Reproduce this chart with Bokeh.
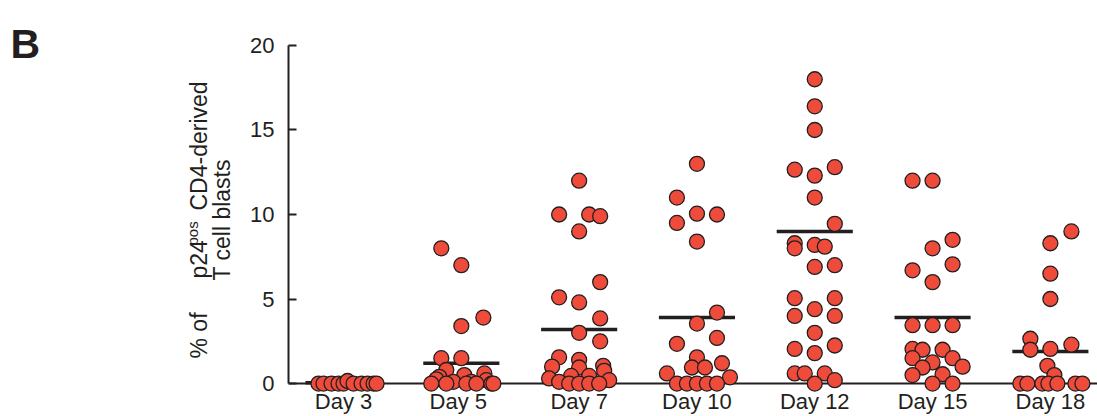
from math import pi
from bokeh.plotting import figure
from bokeh.layouts import row
from bokeh.models import Range1d, FixedTicker, Span, Label, ColumnDataSource
from bokeh.embed import file_html
from bokeh.resources import INLINE

# ---------------- data ----------------
days = ["Day 3", "Day  5", "Day 7", "Day 10", "Day 12", "Day 15", "Day 18"]

day3_values = [0, 0, 0, 0, 0, 0.15, 0, 0, 0, 0, 0]
day3_slots = [-2.5, -2, -1.2, -0.5, 0, 0.4, 1, 1.8, 2.4, 3, 3.3]

day5_values = [8.0, 7.0, 3.9, 3.4, 1.5, 1.5, 0.8, 0.6, 0.5, 0.4, 0.25, 0.2,
               0.1, 0.1, 0, 0, 0, 0, 0, 0]
day5_slots = [-2, 0, 2.2, 0, -2, 0, -1.5, 2.3, 0.3, -2.2, -2.5, 2.5,
              -0.8, 1, -3, -1.5, 0.5, 1.5, 3, 3.2]

day7_values = [12.0, 10.0, 10.0, 9.9, 9.0, 6.0, 5.1, 4.8, 3.85, 3.0, 2.5, 1.55,
               1.4, 1.05, 1.0, 0.95, 0.75, 0.45, 0.45, 0.3, 0.2, 0.1, 0, 0, 0, 0]
day7_slots = [0, -2, 1, 2.1, 0, 2.1, -2, 0, 2.1, 0, 2.1, -2,
              0, 2.4, -2.7, 0, 2.5, -0.8, 1, -3, 3, -2, -1, 0, 1, 2]

day10_values = [13.0, 11.0, 10.05, 10.0, 9.5, 8.4, 4.2, 3.55, 2.7, 2.35, 1.55,
                1.2, 0.95, 0.95, 0.6, 0.37, 0, 0, 0, 0, 0]
day10_slots = [0, -2, 0, 2, -2, 0, 2, 0, 2, -2, 0,
               2.5, -0.5, 0.8, -3, 3.3, -2, -1, 0, 1, 2]

day12_values = [18.0, 16.4, 15.0, 12.65, 12.8, 12.3, 11.0, 9.45, 8.3, 8.0, 8.2,
                8.1, 6.9, 7.0, 5.05, 5.05, 4.4, 4.0, 4.0, 3.0, 2.05, 2.25, 1.8,
                0.6, 0.6, 0.6, 0.0, 0.2]
day12_slots = [0, 0, 0, -2, 2, 0, 0, 2, -2, -2, 0,
               1, 0, 2, -2, 2, 0, -2, 2, 0, -2, 2, 0,
               -2, -1, 1, 0, 2]

day15_values = [12.0, 12.0, 8.5, 8.0, 7.05, 6.7, 6.0, 3.45, 3.45, 3.45, 2.05,
                2.0, 2.0, 1.5, 1.25, 1.5, 0.95, 1.0, 0.5, 0.55, 0.0, 0.0]
day15_slots = [-2, 0, 2, 0, 2, -2, 0, -2, 0, 2, -2,
               -1, 1, -2, 0, 2, -1, 3, -2, 1, 0, 2]

day18_values = [9.0, 8.3, 6.5, 5.0, 2.65, 2.0, 2.05, 2.3, 1.05, 0.5,
                0, 0, 0, 0, 0, 0, 0]
day18_slots = [2.1, 0, 0, 0, -2, -2, 0, 2.1, -0.3, 0.4,
               -3, -2.3, -0.8, -0.2, 0.7, 2.5, 3.2]

group_means = [0.05, 1.2, 3.2, 3.9, 9.0, 3.9, 1.9]

all_values = [day3_values, day5_values, day7_values, day10_values,
              day12_values, day15_values, day18_values]
all_slots = [day3_slots, day5_slots, day7_slots, day10_slots,
             day12_slots, day15_slots, day18_slots]

# ---------------- build ----------------
SLOT = 0.085          # horizontal offset of one jitter slot (category units)
HALF = 0.323          # half width of the mean bar
INK = "#231F20"
RED = "#EE4B3B"
FONT = "Liberation Sans"
W, H = 1097, 416
LW = 240              # width of the left strip holding the axis title
BOTTOM = 24           # bottom border (x labels)

xs, ys = [], []
for i, (vals, slots) in enumerate(zip(all_values, all_slots)):
    for v, s in zip(vals, slots):
        xs.append(i + 1 + s * SLOT)
        ys.append(v)
pts = ColumnDataSource(dict(x=xs, y=ys))

centers = list(range(1, len(days) + 1))
bars = ColumnDataSource(dict(x0=[c - HALF for c in centers],
                             x1=[c + HALF for c in centers],
                             y=group_means))

# frame spans the whole height above the labels; the axis stops at 20
p = figure(width=W - LW, height=H, output_backend="svg", toolbar_location=None,
           x_range=Range1d(0.533, 7.4), y_range=Range1d(-0.53, 22.66),
           min_border_left=288 - LW, min_border_right=0, min_border_top=0,
           min_border_bottom=BOTTOM)
p.outline_line_color = None
p.grid.visible = False
p.background_fill_color = "white"
p.border_fill_color = "white"

p.add_layout(Span(location=0, dimension="width", line_color=INK,
                  line_width=2, level="underlay"))

p.segment(x0="x0", x1="x1", y0="y", y1="y", source=bars,
          line_color=INK, line_width=3.5)
p.scatter(x="x", y="y", source=pts, marker="circle", size=15,
          fill_color=RED, line_color=INK, line_width=1.3)

# y axis
ya = p.yaxis[0]
ya.ticker = FixedTicker(ticks=[0, 5, 10, 15, 20])
ya.bounds = (0, 20)
ya.axis_line_color = INK
ya.axis_line_width = 2
ya.major_tick_line_color = INK
ya.major_tick_line_width = 2
ya.major_tick_in = 8
ya.major_tick_out = 0
ya.minor_tick_line_color = None
ya.major_label_standoff = 14
ya.major_label_text_font = FONT
ya.major_label_text_font_size = "22px"
ya.major_label_text_color = INK

# x axis (category labels)
xa = p.xaxis[0]
xa.ticker = FixedTicker(ticks=centers)
xa.major_label_overrides = {c: d for c, d in zip(centers, days)}
xa.axis_line_color = None
xa.major_tick_line_color = None
xa.minor_tick_line_color = None
xa.major_tick_in = 0
xa.major_tick_out = 0
xa.major_label_standoff = -4
xa.major_label_text_font = FONT
xa.major_label_text_font_size = "22px"
xa.major_label_text_color = INK

# ---------------- left strip: panel letter and y-axis title ----------------
# its frame is aligned with the main frame (page y 0 .. H-BOTTOM);
# data y = H - page y
t = figure(title=None, width=LW, height=H,
           output_backend="svg", toolbar_location=None,
           x_range=Range1d(0, LW), y_range=Range1d(BOTTOM, H),
           min_border=0, min_border_left=0, min_border_right=0,
           min_border_top=0, min_border_bottom=0,
           x_axis_location=None, y_axis_location=None)
t.outline_line_color = None
t.grid.visible = False
t.background_fill_color = "white"
t.border_fill_color = "white"


def lab(text, x, ytop, size, angle=pi / 2, style="normal"):
    t.add_layout(Label(x=x, y=H - ytop, text=text, angle=angle,
                       text_font=FONT, text_font_size=size,
                       text_font_style=style, text_color=INK,
                       text_align="left", text_baseline="alphabetic"))


lab("% of", 198, 358, "23px")
lab("p24", 198, 278, "23px")
lab("pos", 192, 245, "15px")
lab("CD4-derived", 198, 210, "23px")
lab("T cell blasts", 221, 280, "23px")
lab("B", 10, 43, "41px", angle=0, style="bold")

layout = row(t, p, spacing=0)
open("out.html", "w").write(file_html(layout, INLINE))
